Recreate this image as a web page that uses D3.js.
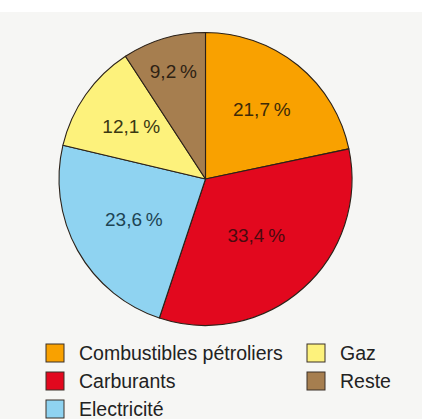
<!DOCTYPE html>
<html>
<head>
<meta charset="utf-8">
<script src="https://cdn.jsdelivr.net/npm/d3@7"></script>
<style>
  body { margin: 0; background: #fff; }
  svg { display: block; font-family: "Liberation Sans", Arial, sans-serif; }
</style>
</head>
<body>
<svg></svg>
<script>
// data
let categories = ["Combustibles pétroliers", "Carburants", "Electricité", "Gaz", "Reste"];
let values = [21.7, 33.4, 23.6, 12.1, 9.2];
let colors = ["#f9a100", "#e2081e", "#8fd3f1", "#fdf27c", "#a67e4f"];
let labelColors = ["#3d2a08", "#4a0a0e", "#1d4454", "#3a3812", "#2e2214"];

let svgWidth = 422,
    svgHeight = 419,
    radius = 146.5;

let svg = d3.select("svg")
    .attr("width", svgWidth)
    .attr("height", svgHeight);

// paper background
svg.append("rect")
    .attr("x", 0).attr("y", 12)
    .attr("width", svgWidth).attr("height", svgHeight - 12)
    .attr("fill", "#f6f6f4");

let data = categories.map((c, i) => ({ category: c, value: values[i], i: i }));

let g = svg.append("g")
    .attr("transform", "translate(205.5,179)");

let pie = d3.pie().sort(null).value(d => d.value);

let arc = d3.arc().innerRadius(0).outerRadius(radius);

let slices = g.selectAll("g.slice")
    .data(pie(data)).enter()
    .append("g")
        .attr("class", "slice");

slices.append("path")
    .attr("d", arc)
    .attr("fill", d => colors[d.data.i])
    .attr("stroke", "#2b2118")
    .attr("stroke-width", 1.1)
    .attr("stroke-linejoin", "round");

// label radius per slice (hand placed in the original)
let labelR = [0.61, 0.52, 0.56, 0.62, 0.77];

slices.append("text")
    .attr("transform", d => {
        let r = radius * labelR[d.data.i];
        let a = (d.startAngle + d.endAngle) / 2;
        return "translate(" + (r * Math.sin(a)) + "," + (-r * Math.cos(a)) + ")";
    })
    .attr("text-anchor", "middle")
    .attr("dy", "0.35em")
    .attr("font-size", 19)
    .attr("fill", d => labelColors[d.data.i])
    .text(d => d3.format(".1f")(d.data.value).replace(".", ",") + "\u2009%");

// legend
let legendPos = [[46, 344], [46, 372], [46, 400], [307, 344], [307, 372]];

let legend = svg.selectAll("g.legend")
    .data(data).enter()
    .append("g")
        .attr("class", "legend")
        .attr("transform", d => "translate(" + legendPos[d.i][0] + "," + legendPos[d.i][1] + ")");

legend.append("rect")
    .attr("width", 18).attr("height", 18)
    .attr("fill", d => colors[d.i])
    .attr("stroke", "#3a3028")
    .attr("stroke-width", 1);

legend.append("text")
    .attr("x", 33)
    .attr("y", 16)
    .attr("font-size", 19.5)
    .attr("fill", "#222")
    .text(d => d.category);
</script>
</body>
</html>
